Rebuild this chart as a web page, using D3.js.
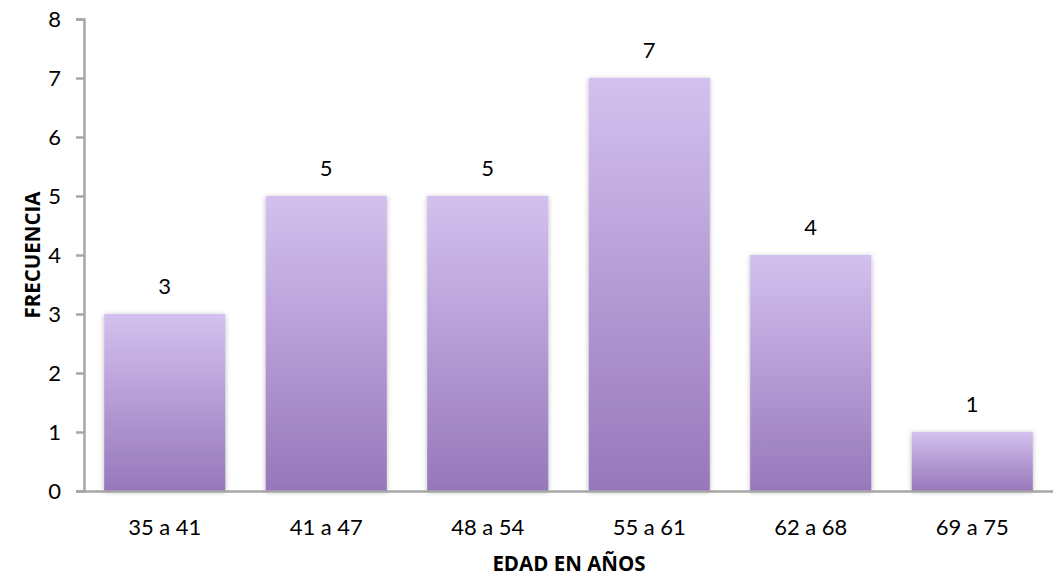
<!DOCTYPE html>
<html>
<head>
<meta charset="utf-8">
<script src="https://cdn.jsdelivr.net/npm/d3@7"></script>
<style>
  html, body { margin: 0; padding: 0; background: #fff; }
  svg { display: block; font-family: Lato, "Open Sans", sans-serif; }
</style>
</head>
<body>
<svg id="chart" width="1053" height="578"></svg>
<script>
// Age ranges and how many people fall in each
const categories = ["35 a 41", "41 a 47", "48 a 54", "55 a 61", "62 a 68", "69 a 75"];
const frecuencia = [3, 5, 5, 7, 4, 1];
const yTicks = [0, 1, 2, 3, 4, 5, 6, 7, 8];

const svg = d3.select("#chart");
const margin = { left: 84, right: 0, top: 19, bottom: 87 };
const width = 1053, height = 578;
const labelFont = "Lato, 'Open Sans', sans-serif";
const titleFont = "'Open Sans', Lato, sans-serif";

const x = d3.scaleBand()
  .domain(categories)
  .range([margin.left, width - margin.right])
  .paddingInner(0.25)
  .paddingOuter(0.125);

const y = d3.scaleLinear()
  .domain([0, 8])
  .range([height - margin.bottom, margin.top]);

const defs = svg.append("defs");
const grad = defs.append("linearGradient")
  .attr("id", "barFill")
  .attr("x1", 0).attr("y1", 0).attr("x2", 0).attr("y2", 1);
grad.append("stop").attr("offset", "0%").attr("stop-color", "#d4c0ef");
grad.append("stop").attr("offset", "100%").attr("stop-color", "#9678ba");

const shadow = defs.append("filter")
  .attr("id", "barShadow")
  .attr("x", "-10%").attr("y", "-10%").attr("width", "120%").attr("height", "120%");
shadow.append("feDropShadow")
  .attr("dx", 0).attr("dy", 1).attr("stdDeviation", 2.5)
  .attr("flood-color", "#000").attr("flood-opacity", 0.28);

// Bars
svg.append("g")
  .selectAll("rect")
  .data(frecuencia)
  .join("rect")
  .attr("x", (d, i) => x(categories[i]))
  .attr("width", x.bandwidth())
  .attr("y", d => y(d))
  .attr("height", d => y(0) - y(d))
  .attr("fill", "url(#barFill)")
  .attr("filter", "url(#barShadow)");

// Value labels
svg.append("g")
  .selectAll("text")
  .data(frecuencia)
  .join("text")
  .attr("x", (d, i) => x(categories[i]) + x.bandwidth() / 2)
  .attr("y", d => y(d) - 20)
  .attr("text-anchor", "middle")
  .attr("font-family", labelFont)
  .attr("font-size", 22)
  .attr("fill", "#000")
  .text(d => d);

// Y axis
const yAxis = svg.append("g")
  .attr("transform", `translate(${margin.left},0)`)
  .call(d3.axisLeft(y).tickValues(yTicks).tickSize(8).tickPadding(15).tickFormat(d3.format("d")));
yAxis.select(".domain").attr("stroke", "#a6a6a6").attr("stroke-width", 2.5);
yAxis.selectAll(".tick line").attr("stroke", "#a6a6a6").attr("stroke-width", 2.5);
yAxis.selectAll(".tick text").attr("font-size", 22).attr("fill", "#000")
  .attr("font-family", labelFont);

// X axis
const xAxis = svg.append("g")
  .attr("transform", `translate(0,${y(0)})`)
  .call(d3.axisBottom(x).tickSize(0).tickPadding(28));
xAxis.select(".domain").attr("stroke", "#a6a6a6").attr("stroke-width", 2.5);
xAxis.selectAll(".tick text").attr("font-size", 22).attr("fill", "#000")
  .attr("font-family", labelFont);

// Axis titles
svg.append("text")
  .attr("x", 569)
  .attr("y", 571)
  .attr("text-anchor", "middle")
  .attr("font-family", titleFont)
  .attr("font-size", 20.5)
  .attr("font-weight", "bold")
  .text("EDAD EN AÑOS");

svg.append("text")
  .attr("transform", `translate(40,${y(4)}) rotate(-90)`)
  .attr("text-anchor", "middle")
  .attr("font-family", titleFont)
  .attr("font-size", 20.5)
  .attr("font-weight", "bold")
  .text("FRECUENCIA");
</script>
</body>
</html>
